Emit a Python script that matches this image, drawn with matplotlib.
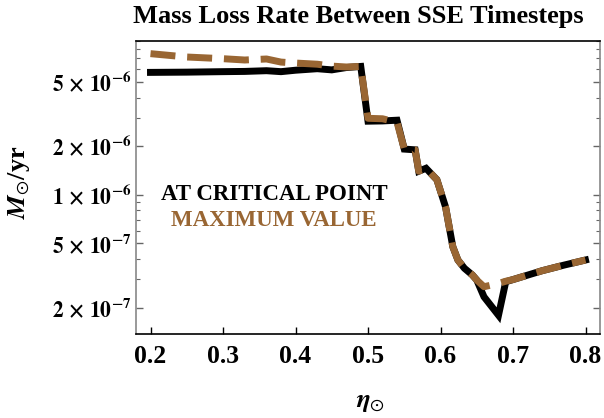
import matplotlib
matplotlib.use("Agg")
import matplotlib.pyplot as plt
from matplotlib.ticker import LogLocator, FixedLocator, NullFormatter

plt.rcParams['font.family'] = ['Liberation Serif', 'DejaVu Serif']
plt.rcParams['mathtext.fontset'] = 'stix'

title = "Mass Loss Rate Between SSE Timesteps"
eta = [0.20, 0.25, 0.30, 0.33, 0.36, 0.38, 0.40, 0.43, 0.45, 0.47, 0.49, 0.50,
       0.52, 0.54, 0.55, 0.565, 0.57, 0.58, 0.595, 0.607, 0.617, 0.624, 0.633,
       0.644, 0.65, 0.66, 0.68, 0.69, 0.70, 0.74, 0.77, 0.80]
crit = [5.74e-6, 5.76e-6, 5.80e-6, 5.82e-6, 5.88e-6, 5.80e-6, 5.92e-6, 6.05e-6,
        5.95e-6, 6.15e-6, 6.25e-6, 2.86e-6, 2.87e-6, 2.90e-6, 1.92e-6, 1.90e-6,
        1.40e-6, 1.46e-6, 1.24e-6, 8.4e-7, 4.76e-7, 3.94e-7, 3.50e-7, 3.18e-7,
        2.96e-7, 2.33e-7, 1.79e-7, 2.89e-7, 2.98e-7, 3.38e-7, 3.66e-7, 3.94e-7]
maxv = [7.5e-6, 7.15e-6, 6.98e-6, 6.85e-6, 6.95e-6, 6.65e-6, 6.56e-6, 6.45e-6,
        6.28e-6, 6.2e-6, 6.25e-6, 2.98e-6, 2.96e-6, 2.82e-6, 1.92e-6, 1.90e-6,
        1.40e-6, 1.46e-6, 1.24e-6, 8.4e-7, 4.76e-7, 3.94e-7, 3.50e-7, 3.18e-7,
        2.96e-7, 2.69e-7, 2.82e-7, 2.91e-7, 2.98e-7, 3.38e-7, 3.66e-7, 3.94e-7]
xticks = [0.2, 0.3, 0.4, 0.5, 0.6, 0.7, 0.8]
yticks = [2e-7, 5e-7, 1e-6, 2e-6, 5e-6]
ytick_labels = [r'$\mathbf{2\,\times\,10^{-7}}$', r'$\mathbf{5\,\times\,10^{-7}}$',
                r'$\mathbf{1\,\times\,10^{-6}}$', r'$\mathbf{2\,\times\,10^{-6}}$',
                r'$\mathbf{5\,\times\,10^{-6}}$']
legend_labels = ["AT CRITICAL POINT", "MAXIMUM VALUE"]

brown = '#996633'
fig = plt.figure(figsize=(6.04, 4.18), dpi=100)
ax = fig.add_axes([136/604, 84/418, 464/604, 293.5/418])

ax.plot(eta, crit, color='black', lw=5, solid_joinstyle='miter', zorder=2)
ax.plot(eta, maxv, color=brown, lw=5, dashes=(3.6, 1.7), zorder=3)

ax.set_yscale('log')
ax.set_xlim(0.18, 0.82)
ax.set_ylim(1.37e-7, 9.05e-6)

ax.xaxis.set_major_locator(FixedLocator(xticks))
ax.set_xticklabels([f"{t:.1f}" for t in xticks], fontsize=18.5, fontweight='bold')
ax.yaxis.set_major_locator(FixedLocator(yticks))
ax.set_yticklabels(ytick_labels, fontsize=15.5)
ax.yaxis.set_minor_locator(LogLocator(base=10, subs=[1, 2, 3, 4, 5, 6, 7, 8, 9], numticks=20))
ax.yaxis.set_minor_formatter(NullFormatter())

ax.tick_params(axis='x', direction='in', length=5, width=1, pad=8, top=False, color='black')
ax.tick_params(axis='y', which='major', direction='in', length=5, width=1, pad=3,
               right=True, color='#666666')
ax.tick_params(axis='y', which='minor', direction='in', length=3, width=0.8,
               right=True, color='#666666')
for s in ['left', 'right']:
    ax.spines[s].set_color('#888888')
    ax.spines[s].set_linewidth(1.2)
for s in ['top', 'bottom']:
    ax.spines[s].set_color('black')
    ax.spines[s].set_linewidth(1.2)

fig.text(358/604, 1 - 17/418, title, ha='center', va='center', fontsize=19, fontweight='bold')
fig.text(19/604, 1 - 182/418, r'$\boldsymbol{M}_{\odot}$/yr', rotation=90, ha='center', va='center',
         fontsize=19, fontweight='bold')
fig.text(370/604, 1 - 403/418, r'$\boldsymbol{\eta}_{\odot}$', ha='center', va='center', fontsize=19)

fig.text(274/604, 1 - 194/418, legend_labels[0], ha='center', va='center', fontsize=16.5,
         fontweight='bold', color='black')
fig.text(274/604, 1 - 220/418, legend_labels[1], ha='center', va='center', fontsize=16.5,
         fontweight='bold', color=brown)

fig.savefig('out.png', dpi=100)
